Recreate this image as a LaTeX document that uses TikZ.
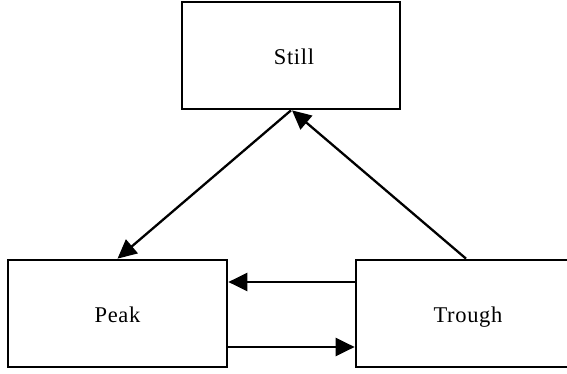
\documentclass[tikz,border=0pt]{standalone}
\usepackage{fontspec}
\setmainfont{Liberation Serif}[LetterSpace=3]
\usetikzlibrary{arrows.meta}
\begin{document}
\begin{tikzpicture}[x=1pt,y=1pt,
  statebox/.style={draw=black, line width=2.7pt, fill=white, minimum height=107pt, inner sep=0pt, text height=18pt, text depth=0.5pt, font=\fontsize{22.5}{26}\selectfont},
  arr/.style={line width=2.3pt, -{Triangle[length=19pt,width=18pt]}}]
\clip (0,0) rectangle (567,374);
\useasboundingbox (0,0) rectangle (567,374);
\node[statebox, minimum width=218pt] (still) at (291,318.5) {\hspace*{6pt}Still};
\node[statebox, minimum width=219pt] (peak) at (117.5,60.5) {Peak};
\node[statebox, minimum width=224pt] (trough) at (468,60.5) {Trough};
\draw[arr] (still.south) -- (peak.north);
\draw[arr] ([xshift=-2pt]trough.north) -- ([xshift=1pt]still.south);
\draw[arr] ([yshift=31.5pt]trough.west) -- ([yshift=31.5pt]peak.east);
\draw[arr] ([yshift=-33.5pt]peak.east) -- ([yshift=-33.5pt]trough.west);
\end{tikzpicture}
\end{document}
